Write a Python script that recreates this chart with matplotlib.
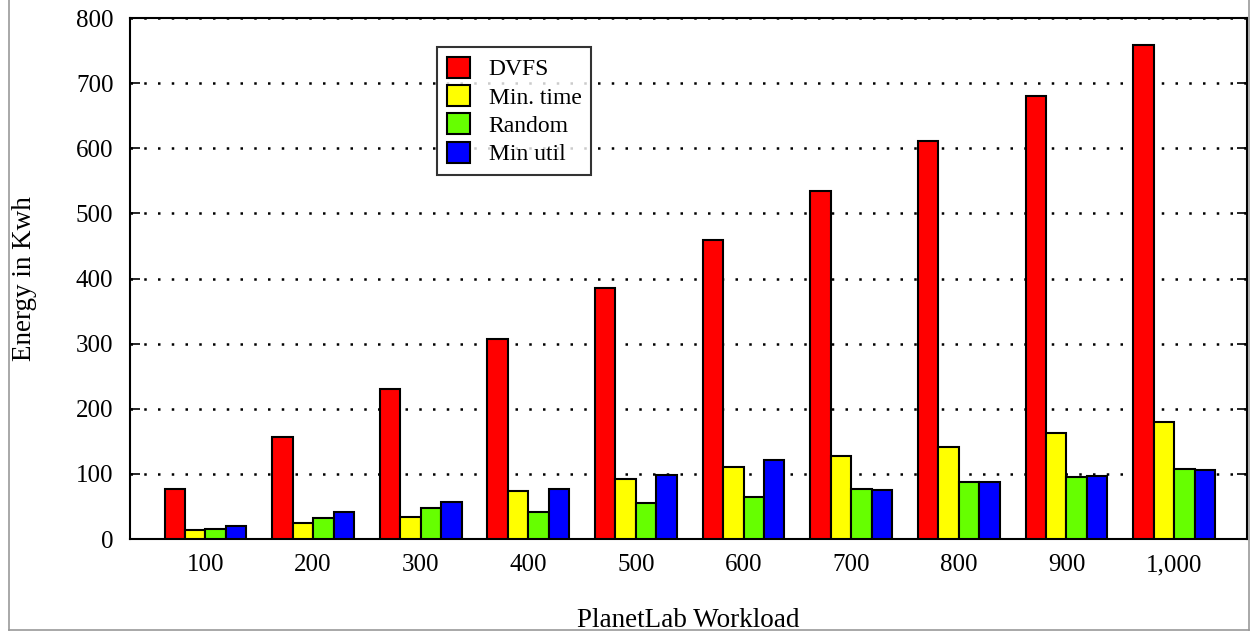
import numpy as np
import matplotlib
matplotlib.use("Agg")
import matplotlib.pyplot as plt
from matplotlib.lines import Line2D

# Values (Energy in Kwh)
workloads = ["100", "200", "300", "400", "500", "600", "700", "800", "900", "1,000"]
dvfs = [77, 157, 230, 307, 385, 459, 534, 611, 680, 759]
min_time = [14, 24, 34, 74, 93, 110, 127, 142, 163, 180]
random_pol = [16, 33, 48, 42, 56, 65, 77, 87, 96, 107]
min_util = [20, 41, 57, 77, 99, 121, 76, 87, 97, 106]

series = [("DVFS", dvfs, "#ff0000"),
          ("Min. time", min_time, "#ffff00"),
          ("Random", random_pol, "#66ff00"),
          ("Min util", min_util, "#0000ff")]

plt.rcParams["font.family"] = ["Liberation Serif", "DejaVu Serif"]

fig = plt.figure(figsize=(12.51, 6.32), dpi=100)
ax = fig.add_axes([0.104, 0.147, 0.893, 0.8245])

x = np.arange(len(workloads))
w = 0.19
for i, (name, vals, col) in enumerate(series):
    ax.bar(x + (i - 1.5) * w, vals, w, color=col, edgecolor="black",
           linewidth=1.5, label=name, zorder=3)

ax.set_xlim(-0.7, 9.68)
ax.set_ylim(0, 800)
ax.set_yticks(range(0, 801, 100))
ax.set_xticks(x)
ax.set_xticklabels(workloads)
ax.tick_params(axis="x", length=0, labelsize=18, pad=11)
ax.tick_params(axis="y", direction="in", length=7, width=1.2, labelsize=18,
               right=True, pad=12)
ax.yaxis.grid(True, linestyle=(0, (1, 4.5)), color="black", linewidth=1.8, zorder=1)
for s in ax.spines.values():
    s.set_linewidth(1.5)

ax.set_xlabel("PlanetLab Workload", fontsize=19.5, labelpad=23)
ax.set_ylabel("Energy in Kwh", fontsize=19.5, labelpad=28)

leg = ax.legend(loc="upper left", bbox_to_anchor=(0.275, 0.945), fontsize=17,
                frameon=True, fancybox=False, edgecolor="black",
                handlelength=0.95, handleheight=1.0, handletextpad=0.8,
                labelspacing=0.2, borderpad=0.42, borderaxespad=0)
leg.get_frame().set_linewidth(1.5)
leg.set_zorder(5)

# thin grey frame around the figure
fx0, fx1, fy0 = 9 / 1251, 1249 / 1251, 1 - 630 / 632
frame = dict(color="#999999", linewidth=1.2, transform=fig.transFigure)
fig.add_artist(Line2D([fx0, fx0], [fy0, 1.0], **frame))
fig.add_artist(Line2D([fx1, fx1], [fy0, 1.0], **frame))
fig.add_artist(Line2D([fx0, fx1], [fy0, fy0], **frame))

fig.savefig("out.png", dpi=100)
